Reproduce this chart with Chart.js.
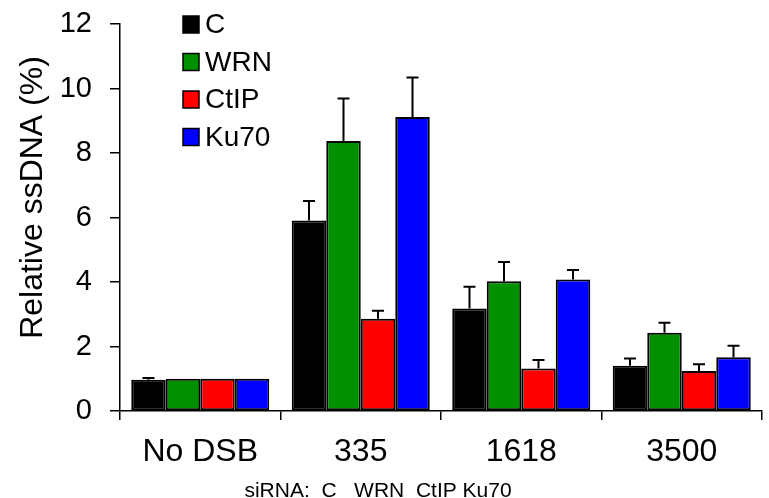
<!DOCTYPE html>
<html lang="en">
<head>
    <meta charset="UTF-8">
    <title>Relative ssDNA</title>
    <script src="https://cdn.jsdelivr.net/npm/chart.js"></script>
    <style>
        html, body { margin: 0; padding: 0; background: #fff; }
        #wrap { width: 769px; height: 498px; position: relative; }
    </style>
</head>
<body>
    <div id="wrap"><canvas id="chart"></canvas></div>

    <script>
        // data
        const categories = ['No DSB', '335', '1618', '3500'];
        const seriesNames = ['C', 'WRN', 'CtIP', 'Ku70'];
        const seriesColors = ['#000000', '#009000', '#ff0000', '#0000ff'];

        const valuesC    = [0.97, 5.91, 3.18, 1.40];
        const valuesWRN  = [1.00, 8.37, 4.02, 2.43];
        const valuesCtIP = [1.00, 2.86, 1.32, 1.24];
        const valuesKu70 = [1.00, 9.12, 4.08, 1.67];

        // upper error bar size
        const errC    = [0.05, 0.60, 0.67, 0.23];
        const errWRN  = [0.00, 1.32, 0.60, 0.31];
        const errCtIP = [0.00, 0.25, 0.26, 0.21];
        const errKu70 = [0.00, 1.22, 0.29, 0.35];

        const yTicks = [0, 2, 4, 6, 8, 10, 12];
        const yTitle = 'Relative ssDNA (%)';
        const caption = 'siRNA:  C   WRN  CtIP Ku70';

        const allValues = [valuesC, valuesWRN, valuesCtIP, valuesKu70];
        const allErrors = [errC, errWRN, errCtIP, errKu70];

        const FONT = '"Liberation Sans", Arial, sans-serif';

        // error bars, drawn on top of the bars using the y scale
        const errorBars = {
            id: 'errorBars',
            afterDatasetsDraw(chart) {
                const ctx = chart.ctx;
                const y = chart.scales.y;
                ctx.save();
                ctx.strokeStyle = '#000';
                ctx.lineWidth = 2;
                chart.data.datasets.forEach((ds, di) => {
                    const meta = chart.getDatasetMeta(di);
                    meta.data.forEach((bar, i) => {
                        const e = ds.errors[i];
                        if (!e) return;
                        const y0 = y.getPixelForValue(ds.data[i]);
                        const y1 = y.getPixelForValue(ds.data[i] + e);
                        ctx.beginPath();
                        ctx.moveTo(bar.x, y0);
                        ctx.lineTo(bar.x, y1);
                        ctx.moveTo(bar.x - 6, y1);
                        ctx.lineTo(bar.x + 6, y1);
                        ctx.stroke();
                    });
                });
                ctx.restore();
            }
        };

        // legend box in the upper left of the plot, y title and the siRNA caption
        const extras = {
            id: 'extras',
            afterDraw(chart) {
                const ctx = chart.ctx;
                ctx.save();
                ctx.font = '28px ' + FONT;
                ctx.textBaseline = 'middle';
                chart.data.datasets.forEach((ds, i) => {
                    const top = 16 + i * 37.5;
                    ctx.fillStyle = ds.backgroundColor;
                    ctx.fillRect(183, top, 16, 17);
                    ctx.strokeStyle = '#000';
                    ctx.lineWidth = 1.5;
                    ctx.strokeRect(183, top, 16, 17);
                    ctx.fillStyle = '#000';
                    ctx.fillText(ds.label, 205, top + 9.5);
                });
                ctx.font = '21px ' + FONT;
                ctx.textAlign = 'center';
                ctx.textBaseline = 'alphabetic';
                ctx.fillText(caption, 378, 497);

                ctx.translate(42, 197.5);
                ctx.rotate(-Math.PI / 2);
                ctx.font = '32px ' + FONT;
                ctx.fillText(yTitle, 0, 0);
                ctx.restore();
            }
        };

        new Chart(document.getElementById('chart'), {
            type: 'bar',
            data: {
                labels: categories,
                datasets: seriesNames.map((name, i) => ({
                    label: name,
                    data: allValues[i],
                    errors: allErrors[i],
                    backgroundColor: seriesColors[i],
                    borderColor: '#000',
                    borderWidth: 2,
                    borderSkipped: false,
                    categoryPercentage: 0.86,
                    barPercentage: 1.0
                }))
            },
            options: {
                responsive: true,
                maintainAspectRatio: false,
                animation: false,
                layout: { padding: { top: 24, right: 7, bottom: 0, left: 0 } },
                plugins: {
                    legend: { display: false },
                    tooltip: { enabled: false }
                },
                scales: {
                    x: {
                        afterFit: (s) => { s.height = 87; },
                        grid: {
                            offset: true,
                            drawOnChartArea: false,
                            drawTicks: true,
                            tickLength: 9,
                            color: '#000',
                            lineWidth: 1.5
                        },
                        border: { color: '#000', width: 1.5 },
                        ticks: {
                            color: '#000',
                            padding: 13,
                            font: { family: FONT, size: 32 },
                            maxRotation: 0
                        }
                    },
                    y: {
                        min: 0,
                        max: 12,
                        afterFit: (s) => {
                            s.width = 120;
                            s.paddingTop = 0;
                            s.paddingBottom = 0;
                        },
                        afterBuildTicks: (s) => { s.ticks = yTicks.map(v => ({ value: v })); },
                        grid: {
                            drawOnChartArea: false,
                            tickLength: 10,
                            color: '#000',
                            lineWidth: 1.5
                        },
                        border: { color: '#000', width: 1.5 },
                        ticks: {
                            color: '#000',
                            padding: 18,
                            font: { family: FONT, size: 29 }
                        }
                    }
                }
            },
            plugins: [errorBars, extras]
        });
    </script>
</body>
</html>
